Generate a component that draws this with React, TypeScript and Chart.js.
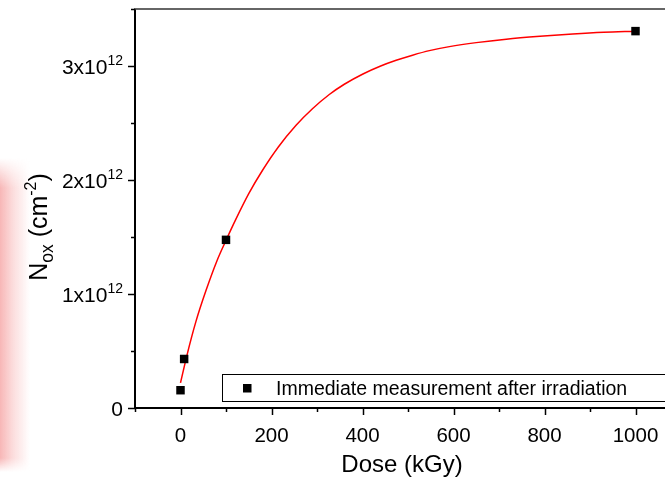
import React, { useEffect, useRef } from 'react';
import { Chart, registerables } from 'chart.js';

Chart.register(...registerables);

// ---- data ----
const doseValues = [0, 8, 100, 1000];
const noxValues = [0.156e12, 0.43e12, 1.475e12, 3.306e12];

const fitDose = [0, 14, 34, 56, 80, 100, 121, 150, 181, 215, 254, 290, 327, 360, 401, 440, 474, 510, 547, 591, 650, 716, 790, 862, 930, 1000];
const fitNox = [0.22e12, 0.46e12, 0.76e12, 1.03e12, 1.29e12, 1.47e12, 1.65e12, 1.88e12, 2.09e12, 2.29e12, 2.48e12, 2.625e12,
  2.75e12, 2.84e12, 2.93e12, 3.0e12, 3.05e12, 3.095e12, 3.135e12, 3.17e12, 3.205e12, 3.235e12, 3.26e12, 3.28e12, 3.295e12, 3.305e12];

const xTickValues = [-100, 0, 100, 200, 300, 400, 500, 600, 700, 800, 900, 1000, 1100];
const xLabelValues = [0, 200, 400, 600, 800, 1000];
const yTickValues = [0, 0.5e12, 1e12, 1.5e12, 2e12, 2.5e12, 3e12, 3.5e12];
const yLabelValues = [0, 1e12, 2e12, 3e12];
const yLabelMantissa = ['0', '1x10', '2x10', '3x10'];
const yLabelExponent = ['', '12', '12', '12'];

const legendLabel = 'Immediate measurement after irradiation';
const xTitle = 'Dose (kGy)';

const FONT = '"Liberation Sans", Arial, Helvetica, sans-serif';

type Seg = { t: string; size: number; dy: number };

function segWidth(ctx: CanvasRenderingContext2D, segs: Seg[]) {
  let w = 0;
  for (const s of segs) {
    ctx.font = `${s.size}px ${FONT}`;
    w += ctx.measureText(s.t).width;
  }
  return w;
}

function drawSegs(ctx: CanvasRenderingContext2D, segs: Seg[], x: number, y: number) {
  let cx = x;
  ctx.textBaseline = 'alphabetic';
  ctx.textAlign = 'left';
  for (const s of segs) {
    ctx.font = `${s.size}px ${FONT}`;
    ctx.fillText(s.t, cx, y + s.dy);
    cx += ctx.measureText(s.t).width;
  }
}

const originPlugin = {
  id: 'originAxes',
  beforeDatasetsDraw(chart: any) {
    const { ctx, chartArea: a, scales } = chart;
    const xs = scales.x;
    const ys = scales.y;
    ctx.save();
    ctx.strokeStyle = '#000';
    ctx.lineWidth = 2;
    ctx.beginPath();
    ctx.moveTo(a.left, a.top);
    ctx.lineTo(a.left, a.bottom);
    ctx.lineTo(a.right, a.bottom);
    ctx.stroke();

    ctx.strokeStyle = '#333';
    ctx.lineWidth = 1.5;
    ctx.beginPath();
    ctx.moveTo(a.left - 1, a.top);
    ctx.lineTo(a.right, a.top);
    ctx.stroke();

    // x ticks
    ctx.strokeStyle = '#000';
    ctx.lineWidth = 1.5;
    for (const v of xTickValues) {
      const px = Math.round(xs.getPixelForValue(v)) + 0.5;
      const major = v % 200 === 0;
      ctx.beginPath();
      ctx.moveTo(px, a.bottom);
      ctx.lineTo(px, a.bottom + (major ? 7 : 4));
      ctx.stroke();
    }
    // y ticks
    for (const v of yTickValues) {
      const py = Math.round(ys.getPixelForValue(v)) + 0.5;
      const major = yLabelValues.includes(v);
      ctx.beginPath();
      ctx.moveTo(a.left, py);
      ctx.lineTo(a.left - (major ? 7 : 4), py);
      ctx.stroke();
    }

    ctx.fillStyle = '#000';
    // x labels
    ctx.font = `20.5px ${FONT}`;
    ctx.textAlign = 'center';
    ctx.textBaseline = 'alphabetic';
    for (const v of xLabelValues) {
      ctx.fillText(String(v), xs.getPixelForValue(v), a.bottom + 34);
    }
    // y labels
    yLabelValues.forEach((v, i) => {
      const segs: Seg[] = [{ t: yLabelMantissa[i], size: 21, dy: 0 }];
      if (yLabelExponent[i]) segs.push({ t: yLabelExponent[i], size: 14, dy: -9 });
      const w = segWidth(ctx, segs);
      const py = ys.getPixelForValue(v);
      drawSegs(ctx, segs, a.left - 12 - w, py + 7.5);
    });

    // x title
    ctx.font = `24px ${FONT}`;
    ctx.textAlign = 'center';
    ctx.fillText(xTitle, 402, a.bottom + 64);

    // y title
    const ySegs: Seg[] = [
      { t: 'N', size: 25, dy: 0 },
      { t: 'ox', size: 17.5, dy: 6 },
      { t: ' (cm', size: 25, dy: 0 },
      { t: '-2', size: 16, dy: -11 },
      { t: ')', size: 25, dy: 0 },
    ];
    const tw = segWidth(ctx, ySegs);
    ctx.save();
    ctx.translate(47, 227);
    ctx.rotate(-Math.PI / 2);
    drawSegs(ctx, ySegs, -tw / 2, 0);
    ctx.restore();

    // legend box
    const lx = a.left + 87;
    const ly = a.bottom - 34;
    ctx.strokeStyle = '#000';
    ctx.lineWidth = 1;
    ctx.strokeRect(lx + 0.5, ly + 0.5, chart.width, 27);
    ctx.fillRect(lx + 21, ly + 10, 8.5, 8.5);
    ctx.font = `19.5px ${FONT}`;
    ctx.textAlign = 'left';
    ctx.fillText(legendLabel, lx + 54, ly + 20.5);
    ctx.restore();
  },
};

export default function App() {
  const ref = useRef<HTMLCanvasElement | null>(null);
  useEffect(() => {
    if (!ref.current) return;
    const chart = new Chart(ref.current, {
      type: 'scatter',
      data: {
        datasets: [
          {
            label: 'fit',
            data: fitDose.map((x, i) => ({ x, y: fitNox[i] })),
            showLine: true,
            borderColor: '#ff0000',
            borderWidth: 1.5,
            pointRadius: 0,
            cubicInterpolationMode: 'monotone',
            order: 2,
          },
          {
            label: legendLabel,
            data: doseValues.map((x, i) => ({ x, y: noxValues[i] })),
            showLine: false,
            pointStyle: 'rect',
            pointRadius: 6,
            borderWidth: 0,
            backgroundColor: '#000',
            borderColor: '#000',
            order: 1,
          },
        ],
      },
      options: {
        animation: false,
        responsive: false,
        devicePixelRatio: 1,
        clip: false as any,
        layout: { padding: { top: 9, right: 19, left: 0, bottom: 0 } },
        plugins: { legend: { display: false }, tooltip: { enabled: false } },
        events: [],
        scales: {
          x: {
            type: 'linear',
            min: -100,
            max: 1100,
            ticks: { display: false },
            grid: { display: false },
            border: { display: false },
            afterFit: (s: any) => { s.height = 69; },
          },
          y: {
            type: 'linear',
            min: 0,
            max: 3.5e12,
            ticks: { display: false },
            grid: { display: false },
            border: { display: false },
            afterFit: (s: any) => { s.width = 135; },
          },
        },
      },
      plugins: [originPlugin],
    });
    return () => chart.destroy();
  }, []);

  return (
    <div style={{ position: 'absolute', left: 0, top: 0, width: 665, height: 477, overflow: 'hidden', background: '#fff' }}>
      <div
        style={{
          position: 'absolute', left: 0, top: 158, width: 30, height: 314,
          background: 'linear-gradient(to right, rgba(246,170,170,0.85) 0%, rgba(250,200,200,0.6) 45%, rgba(255,255,255,0) 100%)',
          WebkitMaskImage: 'linear-gradient(to bottom, transparent 0px, black 30px, black 300px, transparent 314px)',
          maskImage: 'linear-gradient(to bottom, transparent 0px, black 30px, black 300px, transparent 314px)',
        }}
      />
      <canvas ref={ref} width={700} height={477} style={{ position: 'absolute', left: 0, top: 0, width: 700, height: 477 }} />
    </div>
  );
}
